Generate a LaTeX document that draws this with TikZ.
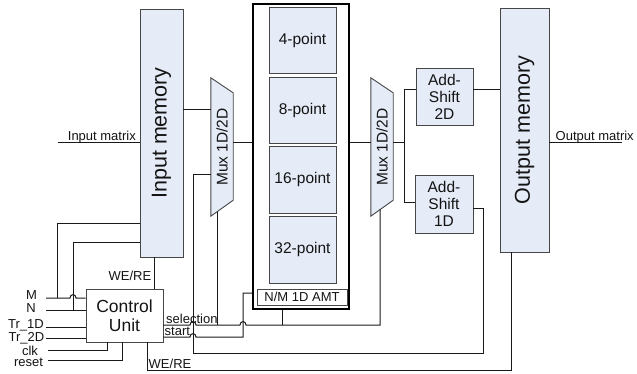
\documentclass[tikz,border=0pt]{standalone}
\usepackage{fontspec}
\setmainfont{Liberation Sans}
\definecolor{fillc}{RGB}{229,235,247}
\definecolor{boxc}{RGB}{70,70,70}
\definecolor{linec}{RGB}{25,25,25}
\definecolor{txtc}{RGB}{20,20,20}
\begin{document}
\begin{tikzpicture}[x=1pt,y=-1pt,
  blk/.style={draw=boxc, fill=fillc, line width=0.9pt, inner sep=0pt, align=center},
  wbox/.style={draw=boxc, fill=white, line width=0.9pt, inner sep=0pt, align=center},
  wire/.style={draw=linec, line width=1pt},
  lbl/.style={font=\fontsize{13}{13}\selectfont, inner sep=0pt, text=txtc},
  bigt/.style={font=\fontsize{21.5}{23}\selectfont, inner sep=0pt, text=txtc},
  midt/.style={font=\fontsize{15.5}{17}\selectfont, text=txtc},
]
\useasboundingbox (0,0) rectangle (637,374);

% memories
\node[blk, minimum width=43, minimum height=248] (inmem) at (161.5,133) {};
\node[bigt, rotate=90] (inmemt) at (inmem.center) {Input memory};
\node[blk, minimum width=49, minimum height=244] (outmem) at (524.5,130) {};
\node[bigt, rotate=90] (outmemt) at (outmem.center) {Output memory};

% multiplexers
\node[minimum width=22, minimum height=138, inner sep=0pt] (mux1) at (222,147) {};
\draw[blk] (mux1.north west) -- ([yshift=-15pt]mux1.north east) -- ([yshift=16pt]mux1.south east) -- (mux1.south west) -- cycle;
\node[midt, rotate=90, inner sep=0pt] (mux1t) at (mux1.center) {Mux 1D/2D};
\node[minimum width=22, minimum height=138, inner sep=0pt] (mux2) at (382,147) {};
\draw[blk] (mux2.north west) -- ([yshift=-15pt]mux2.north east) -- ([yshift=16pt]mux2.south east) -- (mux2.south west) -- cycle;
\node[midt, rotate=90, inner sep=0pt] (mux2t) at (mux2.center) {Mux 1D/2D};

% AMT block
\node[draw=black, line width=2.4pt, minimum width=96, minimum height=305, inner sep=0pt] (amt) at (301,156.5) {};
\node[blk, midt, minimum width=67, minimum height=66] (p4) at (302.5,40) {4-point};
\node[blk, midt, minimum width=67, minimum height=66] (p8) at (302.5,110) {8-point};
\node[blk, midt, minimum width=67, minimum height=67] (p16) at (302.5,179.5) {16-point};
\node[blk, midt, minimum width=67, minimum height=67] (p32) at (302.5,249.5) {32-point};
\node[wbox, lbl, minimum width=90, minimum height=16] (nm) at (302,297) {N/M 1D AMT};

% add-shift
\node[blk, midt, minimum width=57, minimum height=57] (as2) at (444.5,96.5) {Add-\\Shift\\2D};
\node[blk, midt, minimum width=58, minimum height=58] (as1) at (444,204) {Add-\\Shift\\1D};

% control unit
\node[wbox, font=\fontsize{17.5}{19.5}\selectfont, text=txtc, minimum width=77, minimum height=53] (cu) at (124.5,315.5) {Control\\Unit};

% data path
\coordinate (inm) at (58,143);
\draw[wire] (inm) -- (inm -| inmem.west);
\node[lbl, anchor=base east] (inml) at (136,140.5) {Input matrix};
\draw[wire] (inmem.east |- 0,110) -- (mux1.west |- 0,110);
\draw[wire] (mux1.east |- 0,143) -- (amt.west |- 0,143);
\draw[wire] (amt.east |- 0,143) -- (mux2.west |- 0,143);
\coordinate (sp) at (404,143);
\draw[wire] (mux2.east |- sp) -- (sp);
\draw[wire] (as2.west |- 0,90) -| (sp |- 0,203) -- (as1.west |- 0,203);
\draw[wire] (as2.east |- 0,90) -- (outmem.west |- 0,90);
\coordinate (outm) at (622,143);
\draw[wire] (outmem.east |- outm) -- (outm);
\node[lbl, anchor=base west] (outml) at (555.5,140.5) {Output matrix};

% feedback from Add-Shift 1D to mux 1
\draw[wire] (as1.east |- 0,209) -| (483,353) -| (193,175) -- (mux1.west |- 0,175);

% WE/RE lines
\draw[wire] (outmem.south -| 511,0) -- (511,370) -| (cu.south -| 147,0);
\node[lbl, anchor=base west] (werb) at (148.5,368) {WE/RE};
\draw[wire] (cu.north -| 154,0) -- (inmem.south -| 154,0);
\node[lbl, anchor=base east] (wert) at (151.5,280) {WE/RE};

% selection
\coordinate (m1b) at (217,211.6);
\coordinate (m2b) at (380,209.5);
\draw[wire] (cu.east |- 0,325) -- (190,325) .. controls (190,320.5) and (196,320.5) .. (196,325) -- (240,325) .. controls (240,320.5) and (246,320.5) .. (246,325) -| (m2b);
\draw[wire] (m1b) -- (217,325);
\draw[wire] (amt.south -| 282,0) -- (282,325);
\node[lbl, anchor=base west] (sell) at (166,323) {selection};

% start
\draw[wire] (cu.east |- 0,337) -- (190,337) .. controls (190,332.5) and (196,332.5) .. (196,337) -| (243,293) -- (amt.west |- 0,293);
\node[lbl, anchor=base west] (stl) at (164.5,335.5) {start};

% control inputs
\coordinate (iM) at (46,298);
\coordinate (iN) at (46,310);
\coordinate (iT1) at (46,327.5);
\coordinate (iT2) at (46,338);
\coordinate (iclk) at (48,350);
\coordinate (irst) at (48,360);
\draw[wire] (iM) -- (70,298) .. controls (70,293.5) and (76,293.5) .. (76,298) -- (cu.west |- iM);
\draw[wire] (57,298) -- (57,224) -- (inmem.west |- 0,224);
\draw[wire] (iN) -- (cu.west |- iN);
\draw[wire] (73,310) -- (73,242) -- (inmem.west |- 0,242);
\draw[wire] (iT1) -- (cu.west |- iT1);
\draw[wire] (iT2) -- (cu.west |- iT2);
\draw[wire] (iclk) -| (cu.south -| 107,0);
\draw[wire] (irst) -| (cu.south -| 122,0);
\node[lbl, anchor=base] (lM) at (31.5,299) {M};
\node[lbl, anchor=base] (lN) at (31,312) {N};
\node[lbl, anchor=base] (lT1) at (26,328.5) {Tr\_1D};
\node[lbl, anchor=base] (lT2) at (26.5,341.5) {Tr\_2D};
\node[lbl, anchor=base] (lclk) at (30,355) {clk};
\node[lbl, anchor=base] (lrst) at (28.5,366.5) {reset};
\end{tikzpicture}
\end{document}
